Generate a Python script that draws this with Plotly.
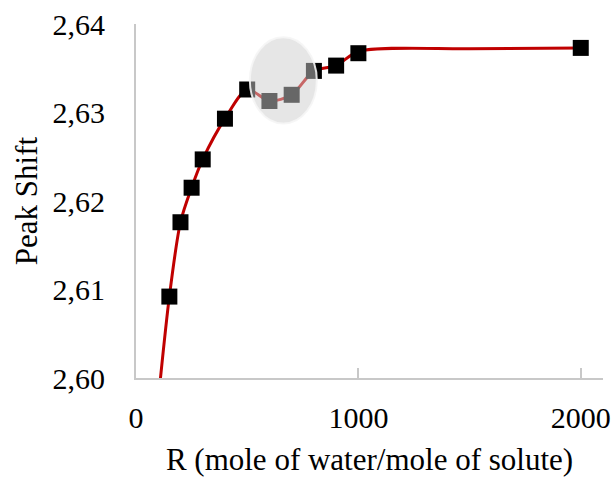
import plotly.graph_objects as go

# data points (R, peak shift)
r_vals = [150, 200, 250, 300, 400, 500, 600, 700, 800, 900, 1000, 2000]
shift_vals = [2.6092, 2.6176, 2.6215, 2.6247, 2.6293, 2.6326, 2.6313, 2.6320, 2.6347, 2.6353, 2.6367, 2.6373]

# smoothed line (extends below the first point, clipped by the axis)
line_r = [100, 150, 200, 250, 300, 400, 500, 600, 700, 800, 900, 1000, 1500, 2000]
line_shift = [2.5975, 2.6092, 2.6176, 2.6215, 2.6247, 2.6293, 2.6326, 2.6313, 2.6320, 2.6347, 2.6353, 2.6369, 2.6372, 2.6373]

x_ticks = [0, 1000, 2000]
y_ticks = [2.60, 2.61, 2.62, 2.63, 2.64]

font_family = "Liberation Serif, Times New Roman, serif"

fig = go.Figure()
fig.add_trace(go.Scatter(
    x=line_r, y=line_shift, mode="lines",
    line=dict(color="#c00000", width=3, shape="spline", smoothing=0.8),
    hoverinfo="skip", showlegend=False,
))
fig.add_trace(go.Scatter(
    x=r_vals, y=shift_vals, mode="markers",
    marker=dict(symbol="square", size=16, color="black"),
    showlegend=False,
))

fig.add_shape(type="circle", xref="x", yref="y",
              x0=512, x1=813, y0=2.62876, y1=2.6385,
              fillcolor="rgba(205,205,205,0.5)",
              line=dict(color="rgba(245,245,245,0.9)", width=2),
              layer="above")

fig.update_layout(
    width=616, height=477,
    margin=dict(l=136, r=13, t=24, b=99),
    paper_bgcolor="white", plot_bgcolor="white",
    separators=",.",
    font=dict(family=font_family, size=30, color="black"),
    xaxis=dict(
        range=[0, 2100], tickvals=x_ticks, ticktext=[str(v) for v in x_ticks],
        showgrid=False, zeroline=False, automargin=False,
        showline=True, linecolor="#c8c8c8", linewidth=2,
        ticks="inside", ticklen=10, tickcolor="#c8c8c8", tickwidth=2,
        ticklabelstandoff=12,
        title=dict(text="R (mole of water/mole of solute)", standoff=15,
                   font=dict(size=31)),
    ),
    yaxis=dict(
        range=[2.60, 2.64], tickvals=y_ticks, tickformat=".2f",
        showgrid=False, zeroline=False, automargin=False,
        showline=True, linecolor="#c8c8c8", linewidth=2,
        ticks="", ticklabelstandoff=23,
        title=dict(text="Peak Shift", standoff=6, font=dict(size=31)),
    ),
)

fig.write_html("out.html")
